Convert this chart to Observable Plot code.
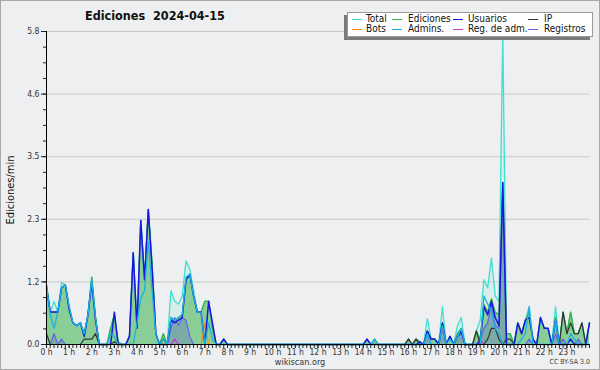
<!DOCTYPE html>
<html><head><meta charset="utf-8">
<script src="https://cdn.jsdelivr.net/npm/d3@7"></script>
<script src="https://cdn.jsdelivr.net/npm/@observablehq/plot@0.6"></script>
<style>
html,body{margin:0;padding:0;background:#eeeff0;}
#wrap{position:relative;width:600px;height:370px;overflow:hidden;background:#eeeff0;font-family:"DejaVu Sans Condensed","DejaVu Sans",sans-serif;font-stretch:condensed;color:#111;}
#wrap svg{position:absolute;left:0;top:0;}
.frame{position:absolute;left:0;top:0;width:600px;height:370px;box-sizing:border-box;border:1px solid #a9a9a9;pointer-events:none;}
.title{position:absolute;left:85px;top:8px;font-weight:bold;font-size:12.5px;white-space:pre;}
.ylab{position:absolute;left:10px;top:190px;font-size:11px;transform:translate(-50%,-50%) rotate(-90deg);white-space:nowrap;}
.legend{position:absolute;left:347px;top:12px;width:246px;height:25px;box-sizing:border-box;background:#fff;border:1px solid #9a9a9a;box-shadow:-3px 3px 0 #7a7a7a;}
.li{position:absolute;font-size:10px;line-height:11px;white-space:nowrap;color:#111;}
.sw{position:absolute;height:1px;width:10px;}
.foot{position:absolute;left:300px;top:357px;transform:translateX(-50%);font-size:9px;line-height:10px;color:#333;}
.cc{position:absolute;right:10px;top:358px;font-size:7px;line-height:8px;color:#444;}
</style></head>
<body><div id="wrap"></div>
<script>
const series = ["Total","Ediciones","Usuarios","IP","Bots","Admins.","Reg. de adm.","Registros"];
const colors = ["#40e0d0","#3cb043","#1818e0","#333333","#ff8c00","#19b2e2","#cc33cc","#6464ea"];
const hourLabels = d3.range(0,24).map(h => h + " h");
const yTicks = [0, 1.16, 2.32, 3.48, 4.64, 5.8];

const Total = [
1.1,0.6,0.8,0.6,1.15,1.1,0.7,0.4,0.35,0.4,0.2,0.55,
1.25,0.5,0,0,0,0.3,0.55,0.05,0,0,0.15,1.7,
0.3,2.3,1.2,2.5,1.5,0.2,0,0.2,0,1.0,0.8,0.75,
0.9,1.55,1.4,1.0,0.6,0.6,0.8,0.8,0.3,0,0,0.1,
0,0,0,0,0,0,0,0,0,0,0,0,
0,0,0,0,0,0,0,0,0,0,0,0,
0,0,0,0,0,0,0,0,0,0,0,0,
0,0.1,0,0.1,0,0,0,0,0,0,0,0,
0.1,0,0.1,0.05,0,0.48,0.1,0.1,0,0.7,0,0.15,
0,0.35,0.5,0,0,0,0.25,0.45,1.2,1.05,1.6,0.9,
0.8,5.8,0.2,0.2,0,0.4,0.2,0.45,0.7,0.1,0,0.5,
0.3,0.3,0,0.7,0,0.6,0.2,0.6,0.2,0.2,0.4,0,
0.4];
const Ediciones = [
1.1,0.6,0.6,0.6,1.05,1.1,0.7,0.4,0.35,0.4,0.2,0.55,
1.25,0.5,0,0,0,0.3,0.55,0.05,0,0,0.15,1.7,
0.3,2.3,1.2,2.5,1.5,0.2,0,0.2,0,0.5,0.45,0.5,
0.55,1.2,1.3,0.9,0.6,0.6,0.8,0.8,0.3,0,0,0.1,
0,0,0,0,0,0,0,0,0,0,0,0,
0,0,0,0,0,0,0,0,0,0,0,0,
0,0,0,0,0,0,0,0,0,0,0,0,
0,0.1,0,0.1,0,0,0,0,0,0,0,0,
0.1,0,0.1,0.05,0,0.25,0.1,0.1,0,0.4,0,0.15,
0,0.2,0.3,0,0,0,0.25,0.1,0.75,0.6,0.85,0.6,
0.55,3.0,0.2,0.2,0,0.4,0.2,0.45,0.6,0.1,0,0.5,
0.3,0.3,0,0.5,0,0.6,0.2,0.6,0.2,0.2,0.4,0,
0.4];
const Usuarios = [
1.05,0.6,0.6,0.6,1.05,1.1,0.65,0.4,0.35,0.4,0.15,0.55,
1.15,0.45,0,0,0,0,0.6,0,0,0,0.15,1.7,
0.3,2.3,1.2,2.5,1.4,0.2,0,0,0,0.45,0.4,0.45,
0.5,1.2,1.3,0.9,0.6,0.6,0,0.8,0.4,0,0,0.1,
0,0,0,0,0,0,0,0,0,0,0,0,
0,0,0,0,0,0,0,0,0,0,0,0,
0,0,0,0,0,0,0,0,0,0,0,0,
0,0.1,0,0,0,0,0,0,0,0,0,0,
0,0,0,0.05,0,0.25,0.1,0.1,0,0.4,0,0.15,
0,0.15,0.25,0,0,0,0,0.05,0.7,0.55,0.8,0.5,
0.35,3.0,0,0,0,0.4,0.2,0.45,0.5,0.1,0,0.5,
0.3,0.3,0,0.45,0,0,0,0.1,0,0,0,0,
0.4];
const IP = [
0.2,0,0,0,0,0,0,0,0,0,0.1,0.1,
0.1,0.2,0,0,0,0,0.05,0,0,0,0,0,
0,0,0,0,0,0,0,0.1,0,0,0,0,
0,0,0,0,0,0,0,0,0,0,0,0,
0,0,0,0,0,0,0,0,0,0,0,0,
0,0,0,0,0,0,0,0,0,0,0,0,
0,0,0,0,0,0,0,0,0,0,0,0,
0,0,0,0,0,0,0,0,0,0,0,0,
0.1,0,0.1,0,0,0,0,0,0,0,0,0,
0,0,0,0,0,0,0.25,0,0,0.1,0.3,0.3,
0.1,0,0.1,0.1,0,0,0,0,0,0,0,0,
0,0,0,0,0,0.6,0.2,0.4,0.2,0.2,0.4,0,
0];
const Bots = [
0,0,0,0,0,0,0,0,0,0,0,0,
0,0,0,0,0,0,0,0,0,0,0,0,
0,0,0,0,0,0,0,0,0,0,0,0,
0,0,0,0,0,0,0.4,0,0,0,0,0,
0,0,0,0,0,0,0,0,0,0,0,0,
0,0,0,0,0,0,0,0,0,0,0,0,
0,0,0,0,0,0,0,0,0,0,0,0,
0,0,0,0,0,0,0,0,0,0,0,0,
0,0,0,0,0,0,0,0,0,0,0,0,
0,0,0,0,0,0,0,0,0,0,0,0,
0,0,0,0,0,0,0,0,0,0,0,0,
0,0,0,0,0,0,0,0,0,0,0,0,
0];
const Admins = [
1.1,0.55,0.3,0.6,1.05,1.1,0.7,0.4,0.35,0.4,0.2,0.55,
1.2,0.5,0,0,0,0.2,0.15,0,0,0,0,0,
0.4,0.85,1.0,1.9,1.0,0.2,0,0.1,0,0.5,0.45,0.5,
0.55,1.25,1.3,0.9,0.6,0.6,0,0.4,0.1,0,0,0,
0,0,0,0,0,0,0,0,0,0,0,0,
0,0,0,0,0,0,0,0,0,0,0,0,
0,0,0,0,0,0,0,0,0,0,0,0,
0,0,0,0.1,0,0,0,0,0,0,0,0,
0,0,0,0,0,0.2,0,0,0,0.35,0,0.1,
0,0.15,0.3,0,0,0,0,0,0.9,0.75,0.6,0.3,
0.2,0,0,0,0,0,0.1,0.2,0.7,0,0,0,
0,0,0,0.45,0,0,0,0.2,0.1,0,0,0,
0];
const RegAdm = [
0,0,0,0,0,0,0,0,0,0,0,0,
0,0,0,0,0,0,0,0,0,0,0,0,
0,0,0,0,0,0,0,0,0,0,0.1,0,
0,0,0,0,0,0,0,0,0,0,0,0,
0,0,0,0,0,0,0,0,0,0,0,0,
0,0,0,0,0,0,0,0,0,0,0,0,
0,0,0,0,0,0,0,0,0,0,0,0,
0,0,0,0,0,0,0,0,0,0,0,0,
0,0,0,0,0,0,0,0,0,0,0,0,
0,0,0,0,0,0,0,0.08,0,0,0,0,
0,0,0,0,0,0,0,0,0,0,0,0,
0,0,0,0,0,0,0,0,0,0,0,0,
0];
const Registros = [
0,0,0.2,0,0.1,0,0,0,0,0,0,0,
0,0,0,0,0,0,0,0,0,0,0,0,
0,0,0,0,0,0,0,0,0,0.3,0.5,0.35,
0.5,0.45,0.15,0,0,0,0,0,0,0,0,0,
0,0,0,0,0,0,0,0,0,0,0,0,
0,0,0,0,0,0,0,0,0,0,0,0,
0,0,0,0,0,0,0,0,0,0,0,0,
0,0,0,0,0,0,0,0,0,0,0,0,
0,0,0,0,0,0.2,0,0,0,0.3,0,0,
0,0.15,0.2,0,0,0,0,0.1,0.3,0.4,0.75,0.35,
0.3,2.8,0,0,0,0,0,0,0.1,0,0,0,
0,0,0,0.2,0,0.1,0,0,0,0.1,0,0,
0];

const data = Total.map((_, i) => ({t: i / 6, Total: Total[i], Ediciones: Ediciones[i], Usuarios: Usuarios[i], IP: IP[i], Bots: Bots[i], Admins: Admins[i], RegAdm: RegAdm[i], Registros: Registros[i]}));
const keys = ["Total","Ediciones","Usuarios","IP","Bots","Admins","RegAdm","Registros"];
const colorOf = Object.fromEntries(keys.map((k, i) => [k, colors[i]]));

const minorX = d3.range(0, 24 * 6 + 1).map(i => i / 6);
const minorY = d3.range(0, 21).map(i => i * 0.29);
const font = '"DejaVu Sans Condensed","DejaVu Sans",sans-serif';

const line = (k, w) => Plot.lineY(data, {x: "t", y: k, stroke: colorOf[k], strokeWidth: w});

const chart = Plot.plot({
  width: 600, height: 370,
  marginLeft: 46, marginRight: 11, marginTop: 31, marginBottom: 26,
  style: {background: "transparent", fontFamily: font, fontSize: "8.5px", color: "#222", overflow: "visible"},
  x: {domain: [0, 24]},
  y: {domain: [0, 5.8]},
  marks: [
    Plot.gridY(yTicks.slice(1), {stroke: "#c8c8c8", strokeOpacity: 1}),
    Plot.areaY(data, {x: "t", y: "Total", fill: colorOf.Total, fillOpacity: 0.12}),
    Plot.areaY(data, {x: "t", y: "Ediciones", fill: colorOf.Ediciones, fillOpacity: 0.5}),
    Plot.areaY(data, {x: "t", y: "Registros", fill: "#5a5ad0", fillOpacity: 0.3}),
    line("Total", 1.3),
    line("Ediciones", 1.3),
    line("Registros", 1.2),
    line("RegAdm", 1.2),
    line("Bots", 1.2),
    line("IP", 1.2),
    line("Usuarios", 1.5),
    line("Admins", 1.3),
    Plot.axisY(yTicks, {tickSize: 5, tickPadding: 2, tickFormat: d => d.toFixed(1), label: null, fontSize: 8.5, fill: "#333"}),
    Plot.axisY(minorY, {tickSize: 3, tickFormat: () => "", label: null}),
    Plot.axisX(minorX, {tickSize: 4, tickFormat: () => "", label: null}),
    Plot.axisX(d3.range(0, 24), {tickSize: 4, tickPadding: 0, tickFormat: d => hourLabels[d], label: null, fontSize: 8.5, fill: "#333"}),
    Plot.ruleX([0], {y1: 0, y2: 5.8, stroke: "#000"}),
    Plot.ruleY([0], {stroke: "#000"})
  ]
});

const wrap = document.getElementById("wrap");
wrap.appendChild(chart);

function add(cls, text, style) {
  const d = document.createElement("div");
  d.className = cls; d.textContent = text;
  if (style) Object.assign(d.style, style);
  wrap.appendChild(d);
  return d;
}
add("title", "Ediciones  2024-04-15");
add("ylab", "Ediciones/min");
const lg = add("legend", "");
const colSw = [4, 44, 105, 180];
const colTx = [18, 60, 120, 196];
series.forEach((name, i) => {
  const c = i % 4, r = Math.floor(i / 4);
  const sw = document.createElement("div");
  sw.className = "sw";
  Object.assign(sw.style, {left: colSw[c] + "px", top: (6 + r * 10) + "px", background: colors[i]});
  lg.appendChild(sw);
  const t = document.createElement("div");
  t.className = "li"; t.textContent = name;
  Object.assign(t.style, {left: colTx[c] + "px", top: (0 + r * 10) + "px"});
  lg.appendChild(t);
});
add("foot", "wikiscan.org");
add("cc", "CC BY-SA 3.0");
add("frame", "");
</script>
</body></html>
